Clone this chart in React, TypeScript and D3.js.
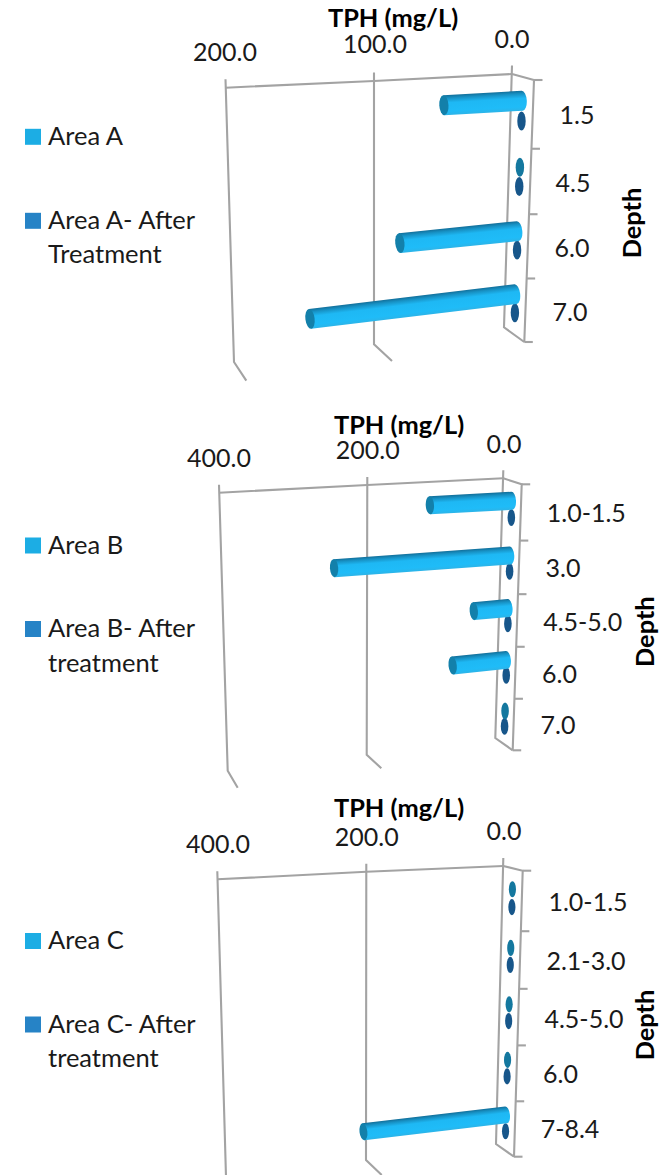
import React from 'react';
import * as d3 from 'd3';

// values
const depthsA = ['1.5', '4.5', '6.0', '7.0'];
const tphA = [57, 0.5, 88, 151];
const treatedA = [0.5, 0.5, 0.5, 0.5];
const ticksA = [0, 100, 200];

const depthsB = ['1.0-1.5', '3.0', '4.5-5.0', '6.0', '7.0'];
const tphB = [121, 257, 52, 82, 0.5];
const treatedB = [0.5, 0.5, 0.5, 0.5, 0.5];
const ticksB = [0, 200, 400];

const depthsC = ['1.0-1.5', '2.1-3.0', '4.5-5.0', '6.0', '7-8.4'];
const tphC = [0.5, 0.5, 0.5, 0.5, 215];
const treatedC = [0.5, 0.5, 0.5, 0.5, 0.5];
const ticksC = [0, 200, 400];

const lineColor = '#a3a3a3';
const barCap = '#1380aa';
const emptyCap = '#14789f';
const treatedCap = '#17568a';
const font = 'Lato, Carlito, sans-serif';

const panels = [
  {
    name: 'Area A', after: ['Area A- After', 'Treatment'],
    cats: depthsA, tph: tphA, treated: treatedA, ticks: ticksA,
    topX: [512, 374, 225.5], topY: [74, 81, 87.7],
    botX: [504, 374, 234], botY: [327.3, 344.3, 362],
    floorX: [524.3, 392, 246.3], floorY: [342, 361, 380.7],
    frontTop: [534, 80], tickUp: 8.5, barR: 10,
    tickLabels: [[512, 47.7], [375, 53.3], [225, 60.7]],
    title: [393, 27.3], depth: [641, 223],
    catLabels: [[577, 124], [573, 191.7], [572, 256.7], [570, 320.7]],
    legendY: [144.8, 228.8, 263],
  },
  {
    name: 'Area B', after: ['Area B- After', 'treatment'],
    cats: depthsB, tph: tphB, treated: treatedB, ticks: ticksB,
    topX: [503.3, 367.3, 219], topY: [478.3, 485, 492.7],
    botX: [495.3, 366.7, 227.7], botY: [738, 754.7, 770.7],
    floorX: [512.7, 381.3, 237.7], floorY: [750.3, 768.3, 787.7],
    frontTop: [521.7, 484.3], tickUp: 8, barR: 9,
    tickLabels: [[504, 452.7], [367.7, 459.3], [219, 466.7]],
    title: [399, 434], depth: [654, 631.7],
    catLabels: [[586.3, 521.7], [563, 576.7], [582.7, 630.7], [559.5, 682.7], [558, 734.3]],
    legendY: [553.5, 637, 671.5],
  },
  {
    name: 'Area C', after: ['Area C- After', 'treatment'],
    cats: depthsC, tph: tphC, treated: treatedC, ticks: ticksC,
    topX: [503.3, 366.3, 217.3], topY: [866, 871.7, 879.3],
    botX: [496, 366, 226], botY: [1144, 1160, 1176.7],
    floorX: [514, 381.7, 238], floorY: [1156.7, 1175, 1194],
    frontTop: [522.7, 870.7], tickUp: 8, barR: 8.5,
    tickLabels: [[504, 840], [366.7, 845.7], [218, 853.3]],
    title: [399, 816.7], depth: [654, 1025],
    catLabels: [[588, 910.7], [586, 970], [584, 1027.7], [560.5, 1083.3], [570, 1138.3]],
    legendY: [949, 1032.5, 1067],
  },
];

function Panel({ p }: { p: (typeof panels)[number] }) {
  const s = (range: number[]) => d3.scaleLinear().domain(p.ticks).range(range);
  const xTop = s(p.topX), yTop = s(p.topY), xBot = s(p.botX), yBot = s(p.botY);
  const xFloor = s(p.floorX), yFloor = s(p.floorY);
  const dxTop = p.frontTop[0] - p.topX[0];
  const dyTop = p.frontTop[1] - p.topY[0];

  // v along the value axis, t down the wall, z from back wall to front
  const project = (v: number, t: number, z: number): [number, number] => {
    const x = d3.interpolateNumber(xTop(v), xBot(v))(t);
    const y = d3.interpolateNumber(yTop(v), yBot(v))(t);
    const dx = d3.interpolateNumber(dxTop, xFloor(v) - xBot(v))(t);
    const dy = d3.interpolateNumber(dyTop, yFloor(v) - yBot(v))(t);
    return [x + z * dx, y + z * dy];
  };

  const wall = d3.scalePow().exponent(0.965).domain([0, p.cats.length]).range([0, 1]);
  const line = d3.line();
  const zero = p.ticks[0];
  const barZ = 0.5;

  const drawBar = (v: number, i: number, series: string) => {
    const slot = d3.scalePoint().domain(['tph', 'treated'])
      .range([wall(i), wall(i + 1)]).padding(1.17);
    const t = slot(series) as number;
    const a = project(0, t, barZ);
    const b = project(v, t, barZ);
    const len = Math.hypot(b[0] - a[0], b[1] - a[1]);
    const angle = (Math.atan2(b[1] - a[1], b[0] - a[0]) * 180) / Math.PI;
    const r = p.barR;
    const rx = r * 0.46;
    if (len < 3) {
      return (
        <ellipse key={series + i} cx={a[0]} cy={a[1]} rx={r * 0.42} ry={r * 0.95}
          fill={series === 'tph' ? emptyCap : treatedCap} />
      );
    }
    const body = `M0,${-r}L${len},${-r}L${len},${r}L0,${r}A${rx},${r} 0 0 1 0,${-r}Z`;
    return (
      <g key={series + i} transform={`translate(${a[0]},${a[1]}) rotate(${angle})`}>
        <path d={body} fill="url(#cylinder)" />
        <ellipse cx={len} cy={0} rx={rx} ry={r} fill={barCap} />
      </g>
    );
  };

  const frameBottom = project(zero, 1, 1);
  const frameTop = project(zero, 0, 1);

  return (
    <g>
      {p.ticks.map(v => (
        <g key={v} fill="none" stroke={lineColor} strokeWidth={2.1}>
          <path d={line([
            [xTop(v), yTop(v) - p.tickUp],
            [xBot(v), yBot(v)],
            [xFloor(v), yFloor(v)],
          ]) as string} />
        </g>
      ))}
      <g fill="none" stroke={lineColor} strokeWidth={2.1}>
        <path d={line(p.ticks.map(v => [xTop(v), yTop(v)] as [number, number])) as string} />
        <path d={line([project(zero, 0, 0), frameTop, frameBottom]) as string} />
        {d3.range(p.cats.length + 1).map(i => {
          const q = project(zero, wall(i), 1);
          return <path key={i} d={line([q, [q[0] + 8.5, q[1]]]) as string} />;
        })}
      </g>

      {p.treated.map((v, i) => drawBar(v, i, 'treated'))}
      {p.tph.map((v, i) => drawBar(v, i, 'tph'))}

      <g fontFamily={font} fontSize={25} fill="#1a1a1a" textAnchor="middle">
        {p.ticks.map((v, i) => (
          <text key={v} x={p.tickLabels[i][0]} y={p.tickLabels[i][1]}>{d3.format('.1f')(v)}</text>
        ))}
        {p.cats.map((c, i) => (
          <text key={c} x={p.catLabels[i][0]} y={p.catLabels[i][1]}>{c}</text>
        ))}
      </g>
      <g fontFamily={font} fontSize={25.4} fontWeight={700} fill="#000" textAnchor="middle">
        <text x={p.title[0]} y={p.title[1]}>TPH (mg/L)</text>
        <text transform={`translate(${p.depth[0]},${p.depth[1]}) rotate(-90)`}>Depth</text>
      </g>

      <g fontFamily={font} fontSize={25.5} fill="#1a1a1a">
        <rect x={25} y={p.legendY[0] - 16} width={16} height={16} fill="#1cade4" />
        <text x={48} y={p.legendY[0]}>{p.name}</text>
        <rect x={25} y={p.legendY[1] - 16} width={16} height={16} fill="#2683c6" />
        {p.after.map((t, i) => (
          <text key={t} x={48} y={p.legendY[1 + i]}>{t}</text>
        ))}
      </g>
    </g>
  );
}

export default function App() {
  return (
    <svg width={663} height={1175} style={{ position: 'absolute', top: 0, left: 0, background: '#fff' }}>
      <defs>
        <linearGradient id="cylinder" x1="0" y1="0" x2="0" y2="1">
          <stop offset="0" stopColor="#2cb4e8" />
          <stop offset="0.2" stopColor="#1fbcf8" />
          <stop offset="0.62" stopColor="#1eb8f4" />
          <stop offset="0.85" stopColor="#1791c4" />
          <stop offset="1" stopColor="#126f9a" />
        </linearGradient>
      </defs>
      {panels.map(p => <Panel key={p.name} p={p} />)}
    </svg>
  );
}
